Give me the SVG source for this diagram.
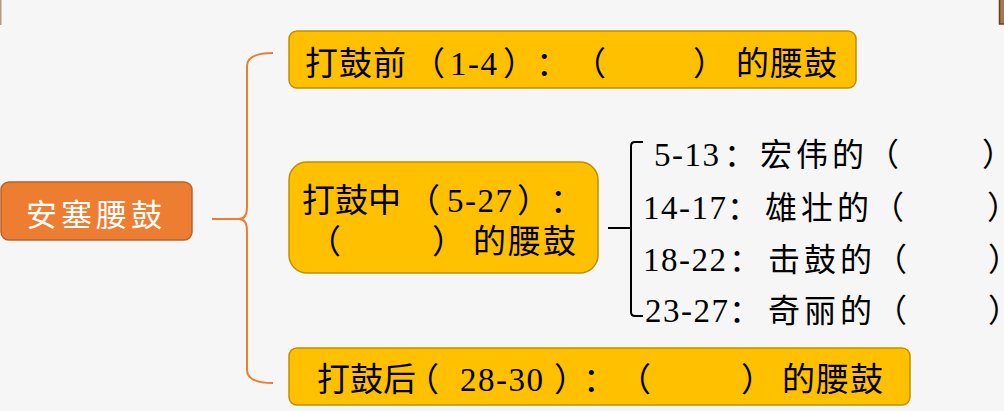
<svg xmlns="http://www.w3.org/2000/svg" width="1004" height="411" viewBox="0 0 1004 411">
<style>
.bg{fill:#f6f6f6}
.box{fill:#ffc000;stroke:#bf9000;stroke-width:1.5}
.root{fill:#ed7d31;stroke:#b8612a;stroke-width:1.5}
.cjk{font-family:"Noto Sans CJK SC","Noto Sans CJK TC",sans-serif;font-size:33px;fill:#000}
.num{font-family:"Liberation Serif",serif;font-size:33px;fill:#000;letter-spacing:1.5px}
.lst{font-family:"Noto Sans CJK SC",sans-serif;font-size:32px;fill:#000}
.ob{fill:none;stroke:#ed7d31;stroke-width:2}
.kb{fill:none;stroke:#000;stroke-width:2}
</style>
<rect class="bg" x="0" y="0" width="1004" height="411"/>
<rect x="0" y="0" width="1.5" height="25" fill="#b89a80"/>
<rect x="999.5" y="-1" width="6" height="25" fill="#a57a50" stroke="#6b3f17" stroke-width="1.5"/>

<g id="connectors">
<path class="ob" d="M273,53 Q247,53 247,66 L247,207 Q247,219 239,219 L212,219 M239,219 Q247,219 247,231 L247,370 Q247,383 273,383"/>
<path class="kb" d="M643,142 L635,142 Q631,142 631,146 L631,312 Q631,316 635,316 L643,316 M608,228 L631,228"/>
</g>

<g id="root">
<rect class="root" x="1" y="182" width="191" height="58" rx="8"/>
<text x="96" y="226" text-anchor="middle" font-family="Noto Sans CJK SC, sans-serif" font-size="31" letter-spacing="4" fill="#fff">安塞腰鼓</text>
</g>

<g id="before">
<rect class="box" x="289" y="31" width="567" height="57" rx="8"/>
<text y="75"><tspan class="cjk" x="305" letter-spacing="1">打鼓前</tspan><tspan class="cjk" x="412">（</tspan><tspan class="num" x="450">1-4</tspan><tspan class="cjk" x="503">）</tspan><tspan class="cjk" x="536">：</tspan><tspan class="cjk" x="573">（</tspan><tspan class="cjk" x="693">）</tspan><tspan class="cjk" x="736" letter-spacing="1">的腰鼓</tspan></text>
</g>

<g id="during">
<rect class="box" x="289" y="162" width="309" height="111" rx="18"/>
<text y="212"><tspan class="cjk" x="302" font-size="32">打鼓中</tspan><tspan class="cjk" x="407">（</tspan><tspan class="num" x="447">5-27</tspan><tspan class="cjk" x="517">）</tspan><tspan class="cjk" x="550">：</tspan></text>
<text y="253"><tspan class="cjk" x="308">（</tspan><tspan class="cjk" x="432">）</tspan><tspan class="cjk" x="473" letter-spacing="2">的腰鼓</tspan></text>
</g>

<g id="item1">
<text y="166"><tspan class="num" x="654">5-13</tspan><tspan class="lst" x="724">：</tspan><tspan class="lst" x="760" letter-spacing="4">宏伟的</tspan><tspan class="lst" x="867">（</tspan><tspan class="lst" x="982">）</tspan></text>
</g>
<g id="item2">
<text y="219"><tspan class="num" x="643">14-17</tspan><tspan class="lst" x="727">：</tspan><tspan class="lst" x="765" letter-spacing="4">雄壮的</tspan><tspan class="lst" x="872">（</tspan><tspan class="lst" x="987">）</tspan></text>
</g>
<g id="item3">
<text y="271"><tspan class="num" x="643">18-22</tspan><tspan class="lst" x="729">：</tspan><tspan class="lst" x="768" letter-spacing="4">击鼓的</tspan><tspan class="lst" x="875">（</tspan><tspan class="lst" x="988">）</tspan></text>
</g>
<g id="item4">
<text y="322"><tspan class="num" x="645">23-27</tspan><tspan class="lst" x="729">：</tspan><tspan class="lst" x="768" letter-spacing="4">奇丽的</tspan><tspan class="lst" x="875">（</tspan><tspan class="lst" x="988">）</tspan></text>
</g>

<g id="after">
<rect class="box" x="289" y="348" width="621" height="57" rx="8"/>
<text y="391"><tspan class="cjk" x="317">打鼓后</tspan><tspan class="cjk" x="406">（</tspan><tspan class="num" x="460">28-30</tspan><tspan class="cjk" x="554">）</tspan><tspan class="cjk" x="583">：</tspan><tspan class="cjk" x="618">（</tspan><tspan class="cjk" x="741">）</tspan><tspan class="cjk" x="782" letter-spacing="1">的腰鼓</tspan></text>
</g>
</svg>
